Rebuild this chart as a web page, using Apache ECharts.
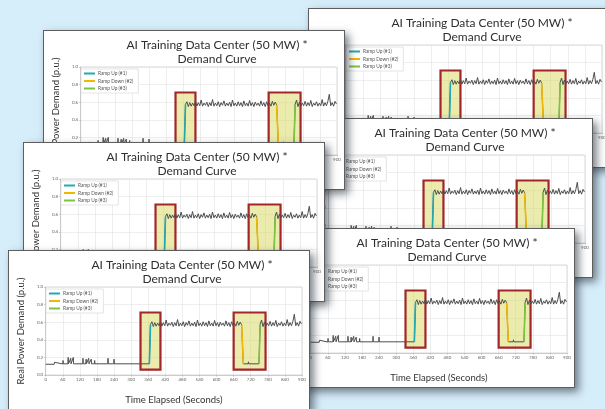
<!DOCTYPE html>
<html>
<head>
<meta charset="utf-8">
<script src="https://cdn.jsdelivr.net/npm/echarts@6/dist/echarts.min.js"></script>
<style>
  html, body { margin: 0; padding: 0; }
  body { width: 605px; height: 409px; overflow: hidden; background: #d6edfa; position: relative; font-family: Lato, sans-serif; }
  .card { position: absolute; width: 302px; height: 160px; background: #fff; border: 1px solid #5e5e5e; box-sizing: border-box; box-shadow: 4px 4px 8px rgba(40, 50, 60, 0.6); }
  .card .chart { position: absolute; left: -1px; top: -1px; width: 302px; height: 160px; }
</style>
</head>
<body>
<script>
// card positions, back to front
const cardSpots = [
  [308, 8], [291, 118], [273, 228], [43, 30], [23, 142], [8, 250]
]

const xTicks = [0, 60, 120, 180, 240, 300, 360, 420, 480, 540, 600, 660, 720, 780, 840, 900]
const yTicks = [0.0, 0.2, 0.4, 0.6, 0.8, 1.0]

// idle phase before the first ramp, [seconds, p.u.]
const idleTrace = [
  [0, 0.122], [30, 0.122], [31, 0.145], [32, 0.124], [60, 0.125], [61, 0.165], [62, 0.127],
  [78, 0.127], [79, 0.2], [80, 0.127], [87, 0.127], [88, 0.19], [89, 0.127],
  [96, 0.127], [97, 0.2], [98, 0.127], [130, 0.127], [131, 0.19], [132, 0.127],
  [141, 0.127], [142, 0.18], [143, 0.127], [150, 0.127], [151, 0.19], [152, 0.127],
  [159, 0.127], [160, 0.18], [161, 0.127], [171, 0.127], [172, 0.165], [173, 0.127],
  [218, 0.127], [219, 0.19], [220, 0.127], [239, 0.127], [240, 0.18], [241, 0.127],
  [364, 0.127]
]

// training phase 1, sampled every 5 s from 368 s
const train1Start = 368
const train1 = [
  0.575, 0.605, 0.550, 0.595, 0.555, 0.590, 0.560, 0.610, 0.555, 0.595,
  0.560, 0.625, 0.555, 0.590, 0.565, 0.600, 0.550, 0.595, 0.560, 0.630,
  0.555, 0.590, 0.560, 0.605, 0.550, 0.595, 0.565, 0.615, 0.555, 0.590,
  0.560, 0.600, 0.550, 0.625, 0.560, 0.590, 0.555, 0.605, 0.560, 0.595,
  0.550, 0.615, 0.560, 0.590, 0.555, 0.620, 0.560, 0.595, 0.550, 0.600,
  0.565, 0.590, 0.555, 0.615, 0.560, 0.595, 0.550, 0.605, 0.560, 0.590,
  0.555, 0.610, 0.565, 0.600
]

// pause between the two training phases
const pauseTrace = [
  [688, 0.57], [694, 0.127], [711, 0.127], [712, 0.15], [713, 0.127], [749, 0.127]
]

// training phase 2, sampled every 5 s from 753 s
const train2Start = 753
const train2 = [
  0.575, 0.625, 0.550, 0.600, 0.555, 0.590, 0.560, 0.610, 0.555, 0.595,
  0.560, 0.620, 0.550, 0.590, 0.565, 0.605, 0.555, 0.590, 0.560, 0.630,
  0.555, 0.595, 0.560, 0.610, 0.690, 0.560, 0.595, 0.555, 0.610, 0.580
]
const sampleStep = 5

const rampUp1 = [[364, 0.127], [368, 0.575]]
const rampDown2 = [[688, 0.57], [694, 0.127]]
const rampUp3 = [[749, 0.127], [753, 0.575]]

// highlighted windows [from s, to s], shared y band
const windows = [[333, 403], [660, 772]]
const windowBand = [0.06, 0.71]

const trace = idleTrace
  .concat(train1.map((v, i) => [train1Start + i * sampleStep, v]))
  .concat(pauseTrace)
  .concat(train2.map((v, i) => [train2Start + i * sampleStep, v]))

const font = "Lato, 'Open Sans', sans-serif"

const buildOption = () => ({
  animation: false,
  title: {
    text: "AI Training Data Center (50 MW) *\nDemand Curve",
    left: 169,
    top: 3,
    textAlign: "center",
    textStyle: { fontFamily: font, fontSize: 12, lineHeight: 14, fontWeight: "normal", color: "#2e2e2e" },
  },
  legend: {
    data: ["Ramp Up (#1)", "Ramp Down (#2)", "Ramp Up (#3)"],
    orient: "vertical",
    left: 38,
    top: 39,
    icon: "rect",
    itemWidth: 11,
    itemHeight: 2,
    itemGap: 2.5,
    padding: [2, 5, 2, 3],
    backgroundColor: "#fff",
    borderColor: "#d4d4d4",
    borderWidth: 0.6,
    textStyle: { fontFamily: font, fontSize: 4.8, color: "#555", padding: [0, 0, 0, -2] },
  },
  grid: { left: 36, top: 37, width: 258, height: 96, show: true, borderColor: "#c8c8c8", borderWidth: 0.7 },
  xAxis: {
    type: "value",
    min: 0,
    max: 900,
    interval: 60,
    name: "Time Elapsed (Seconds)",
    nameLocation: "middle",
    nameGap: 20,
    nameTextStyle: { fontFamily: font, fontSize: 9.5, color: "#333" },
    axisLine: { lineStyle: { color: "#bbb", width: 0.6 } },
    axisTick: { show: true, length: 1.5, lineStyle: { color: "#999", width: 0.5 } },
    axisLabel: { fontFamily: font, fontSize: 4.5, color: "#666", margin: 2.5, formatter: (v) => (xTicks.includes(v) ? String(v) : "") },
    splitLine: { show: true, lineStyle: { color: "#e3e3e3", width: 0.6 } },
  },
  yAxis: {
    type: "value",
    min: 0,
    max: 1,
    interval: 0.2,
    name: "Real Power Demand (p.u.)",
    nameLocation: "middle",
    nameGap: 8,
    nameTextStyle: { fontFamily: font, fontSize: 9.5, color: "#333" },
    axisLine: { show: true, lineStyle: { color: "#bbb", width: 0.6 } },
    axisTick: { show: true, length: 1.5, lineStyle: { color: "#999", width: 0.5 } },
    axisLabel: { fontFamily: font, fontSize: 4.5, color: "#666", margin: 2.5, formatter: (v) => (yTicks.some((t) => Math.abs(t - v) < 1e-6) ? v.toFixed(1) : "") },
    splitLine: { show: true, lineStyle: { color: "#e3e3e3", width: 0.6 } },
  },
  series: [
    {
      name: "windows",
      type: "line",
      data: [],
      z: 1,
      markArea: {
        silent: true,
        itemStyle: { color: "rgba(220, 220, 115, 0.58)", borderColor: "#a3262a", borderWidth: 2.2 },
        data: windows.map((w) => [{ coord: [w[0], windowBand[0]] }, { coord: [w[1], windowBand[1]] }]),
      },
    },
    {
      name: "demand",
      type: "line",
      data: trace,
      showSymbol: false,
      z: 3,
      lineStyle: { color: "#4e4e4e", width: 1 },
    },
    {
      name: "Ramp Up (#1)",
      type: "line",
      data: rampUp1,
      showSymbol: false,
      z: 4,
      color: "#22a9b4",
      lineStyle: { width: 1.6 },
    },
    {
      name: "Ramp Down (#2)",
      type: "line",
      data: rampDown2,
      showSymbol: false,
      z: 4,
      color: "#f2b705",
      lineStyle: { width: 1.6 },
    },
    {
      name: "Ramp Up (#3)",
      type: "line",
      data: rampUp3,
      showSymbol: false,
      z: 4,
      color: "#7cc243",
      lineStyle: { width: 1.6 },
    },
  ],
})

cardSpots.forEach(([x, y], i) => {
  const card = document.createElement("div")
  card.className = "card"
  card.style.left = x + "px"
  card.style.top = y + "px"
  card.style.zIndex = i + 1
  const el = document.createElement("div")
  el.className = "chart"
  card.appendChild(el)
  document.body.appendChild(card)
  const chart = echarts.init(el, null, { renderer: "canvas" })
  chart.setOption(buildOption())
})
</script>
</body>
</html>
